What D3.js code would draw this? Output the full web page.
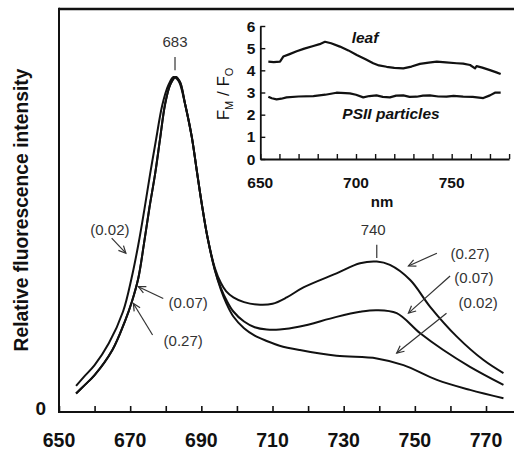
<!DOCTYPE html>
<html>
<head>
<meta charset="utf-8">
<script src="https://cdn.jsdelivr.net/npm/d3@7"></script>
<style>
  html, body { margin: 0; padding: 0; background: #fff; }
  svg { display: block; font-family: "Liberation Sans", Arial, sans-serif; }
</style>
</head>
<body>
<svg id="chart" width="514" height="451"></svg>
<script>
// ---- Fluorescence emission spectra (relative intensity, peak = 100) ----
// Spectrum measured at 0.02: blue-shifted red flank, lowest far-red band
const nm002 = [654.8, 657, 660, 664, 668, 670.4, 672.3, 674, 675.6, 677.3, 679, 680.7, 682.2, 683.6,
               685.4, 687.3, 688.7, 690.1, 691.7, 693.8, 695.5, 697, 699, 702, 705, 708.4, 712, 717.7,
               728, 739.3, 746.8, 756.2, 765.5, 774.9];
const fl002 = [7.8, 10.5, 14, 20.5, 30, 40, 50, 60.5, 71, 81.5, 91.5, 97.5, 100, 98.8,
               92.1, 82.2, 72.2, 62.3, 52.3, 42.4, 36.5, 32.5, 28.5, 25, 22.8, 21.2, 19.8, 18.5,
               16.8, 16.0, 14.0, 9.6, 6.6, 4.1];

// Spectrum measured at 0.07
const nm007 = [654.8, 657, 660, 665, 668.5, 670.5, 672.3, 673.9, 675.4, 677, 678.4, 679.8, 681.3, 682.8, 684,
               685.4, 687.3, 688.7, 690.1, 691.7, 693.8, 695.5, 697, 699, 702, 705, 708.4, 712, 717.7, 728,
               734.6, 739.3, 744.9, 751.5, 758, 765.5, 774.9];
const fl007 = [5.5, 7.8, 11, 18.5, 27, 33, 40, 50.4, 60.9, 71, 81.5, 91.8, 97.8, 100, 98.5,
               92.1, 82.2, 72.2, 62.3, 52.3, 42.4, 37, 33.5, 30, 27, 25.3, 24.6, 24.6, 25.5, 28.4,
               29.9, 30.4, 29.5, 23.5, 18.5, 13.5, 8.1];

// Spectrum measured at 0.27
const nm027 = [654.8, 657, 660, 665, 668.5, 670.5, 672.3, 673.9, 675.4, 677, 678.4, 679.8, 681.3, 682.8, 684,
               685.4, 687.3, 688.7, 690.1, 691.7, 693.8, 695.5, 697, 699, 702, 706.5, 710, 714, 718.7, 728,
               734.6, 739.3, 743, 748.7, 754.3, 761.8, 769.3, 774.9];
const fl027 = [5.5, 7.8, 11, 18.5, 27, 33, 40, 50.4, 60.9, 71, 81.5, 91.8, 97.8, 100, 98.5,
               92.1, 82.2, 72.2, 62.3, 52.3, 43, 38.5, 36, 34.2, 32.8, 32, 32.3, 34.2, 37.2, 41.4,
               44.4, 44.9, 43.9, 39.4, 31.4, 22.5, 15.5, 11.6];

// ---- Inset: FM / FO ratio across the spectrum ----
const leafNm  = [654.2, 657, 660.3, 662, 665, 669, 673, 677.7, 681, 683.8, 687, 691.6, 696, 700.4, 705,
                 709, 712, 716, 720, 724.7, 729, 733.4, 738, 742.2, 747, 752.6, 756, 759.6, 762.2, 763,
                 766, 770, 773, 775.6];
const leafVal = [4.39, 4.37, 4.39, 4.62, 4.72, 4.86, 4.98, 5.1, 5.18, 5.29, 5.22, 5.07, 4.9, 4.69, 4.5,
                 4.32, 4.22, 4.16, 4.11, 4.09, 4.17, 4.29, 4.35, 4.39, 4.36, 4.32, 4.3, 4.24, 4.09, 4.19,
                 4.12, 4.01, 3.92, 3.83];
const psiiNm  = [654.2, 656, 658.5, 661, 663.7, 670, 677.7, 684, 689.8, 696.8, 700, 703.8, 707, 710.7,
                 714, 717.7, 721, 724.7, 728, 731.7, 735, 738.6, 743, 747.3, 751, 756, 761, 766.5, 770,
                 772.6, 775.6];
const psiiVal = [2.81, 2.74, 2.69, 2.72, 2.78, 2.82, 2.84, 2.9, 2.99, 2.96, 2.9, 2.78, 2.84, 2.87,
                 2.8, 2.78, 2.86, 2.87, 2.8, 2.81, 2.86, 2.87, 2.82, 2.81, 2.85, 2.81, 2.8, 2.75, 2.87,
                 2.99, 2.99];

// Axis ticks and labels
const mainTickNm   = d3.range(650, 781, 10);
const mainLabelNm  = [650, 670, 690, 710, 730, 750, 770];
const insetTickNm  = d3.range(650, 781, 10);
const insetLabelNm = [650, 700, 750];
const insetTickY   = [0, 1, 2, 3, 4, 5, 6];

const svg = d3.select("#chart");
const W = 514, H = 451;

// ---------- main panel ----------
const x = d3.scaleLinear().domain([650, 780]).range([59, 521.6]);
const y = d3.scaleLinear().domain([0, 100]).range([412, 77]);
const frameTop = 9;

const line = d3.line().x(d => x(d[0])).y(d => y(d[1])).curve(d3.curveCatmullRom.alpha(0.5));
const zip = (a, b) => a.map((v, i) => [v, b[i]]);

// frame: top rule and left axis
svg.append("line").attr("x1", x(650)).attr("x2", W).attr("y1", frameTop).attr("y2", frameTop)
  .attr("stroke", "#111").attr("stroke-width", 2.5);
svg.append("line").attr("x1", x(650)).attr("x2", x(650)).attr("y1", frameTop - 1.2).attr("y2", y(0) + 1)
  .attr("stroke", "#111").attr("stroke-width", 2);

// bottom axis with inward ticks
const xAxis = d3.axisBottom(x).tickValues(mainTickNm).tickSize(-6).tickFormat("");
const gx = svg.append("g").attr("transform", `translate(0,${y(0)})`).call(xAxis);
gx.select(".domain").attr("stroke", "#111").attr("stroke-width", 2).attr("d", `M${x(650)},0H${W}`);
gx.selectAll(".tick line").attr("stroke", "#111").attr("stroke-width", 1.6);

svg.append("g").selectAll("text").data(mainLabelNm).join("text")
  .attr("x", d => x(d)).attr("y", 447)
  .attr("text-anchor", "middle").attr("font-size", 19.5).attr("font-weight", "bold").attr("fill", "#111")
  .text(d => d);

svg.append("text").attr("x", 46).attr("y", 415).attr("text-anchor", "end")
  .attr("font-size", 19).attr("font-weight", "bold").attr("fill", "#111").text("0");

svg.append("text")
  .attr("transform", `translate(28,210) rotate(-90)`)
  .attr("text-anchor", "middle").attr("font-size", 19.3).attr("font-weight", "bold").attr("fill", "#111")
  .text("Relative fluorescence intensity");

// spectra
[[nm002, fl002], [nm007, fl007], [nm027, fl027]].forEach(([n, f]) => {
  svg.append("path").datum(zip(n, f)).attr("d", line)
    .attr("fill", "none").attr("stroke", "#111").attr("stroke-width", 2).attr("stroke-linejoin", "round");
});

// peak markers
const ann = svg.append("g").attr("font-size", 15).attr("fill", "#333").attr("text-anchor", "middle");
ann.append("text").attr("x", x(682.6)).attr("y", y(109)).text("683");
ann.append("line").attr("x1", x(682.6)).attr("x2", x(682.6)).attr("y1", y(106)).attr("y2", y(102))
  .attr("stroke", "#333").attr("stroke-width", 1.2);
ann.append("text").attr("x", x(738.3)).attr("y", y(52.8)).text("740");
ann.append("line").attr("x1", x(739.3)).attr("x2", x(739.3)).attr("y1", y(49.9)).attr("y2", y(46))
  .attr("stroke", "#333").attr("stroke-width", 1.2);

// series labels with arrows (label position, arrow tail, arrow head) in data units
const labels = [
  { t: "(0.02)", at: [664.3, 52.8], from: [664.8, 51.9], to: [668.8, 47.4] },
  { t: "(0.07)", at: [686.3, 31.0], from: [679.3, 33.9], to: [672.3, 37.4] },
  { t: "(0.27)", at: [684.9, 19.7], from: [676.3, 23.0], to: [670.9, 32.4] },
  { t: "(0.27)", at: [765.5, 45.7], from: [756.2, 47.4], to: [748.2, 43.6] },
  { t: "(0.07)", at: [766.6, 38.5], from: [759.9, 40.6], to: [748.2, 29.5] },
  { t: "(0.02)", at: [767.8, 31.0], from: [758.9, 29.5], to: [744.9, 17.6] }
];
labels.forEach(l => {
  ann.append("text").attr("x", x(l.at[0])).attr("y", y(l.at[1])).text(l.t);
  const x1 = x(l.from[0]), y1 = y(l.from[1]), x2 = x(l.to[0]), y2 = y(l.to[1]);
  ann.append("line").attr("x1", x1).attr("y1", y1).attr("x2", x2).attr("y2", y2)
    .attr("stroke", "#333").attr("stroke-width", 1.2);
  const a = Math.atan2(y2 - y1, x2 - x1), L = 8, s = 0.45;
  ann.append("path")
    .attr("d", `M${x2 - L * Math.cos(a - s)},${y2 - L * Math.sin(a - s)}L${x2},${y2}L${x2 - L * Math.cos(a + s)},${y2 - L * Math.sin(a + s)}`)
    .attr("fill", "none").attr("stroke", "#333").attr("stroke-width", 1.2);
});

// ---------- inset ----------
const ix = d3.scaleLinear().domain([650, 780]).range([260.3, 509.1]);
const iy = d3.scaleLinear().domain([0, 6]).range([159, 26]);
const ins = svg.append("g");

const iyAxis = d3.axisLeft(iy).tickValues(insetTickY).tickSize(-5).tickFormat("").tickSizeOuter(0);
const gy = ins.append("g").attr("transform", `translate(${ix(650)},0)`).call(iyAxis);
gy.select(".domain").attr("stroke", "#111").attr("stroke-width", 1.8);
gy.selectAll(".tick line").attr("stroke", "#111").attr("stroke-width", 1.4);

const ixAxis = d3.axisBottom(ix).tickValues(insetTickNm).tickSize(-5).tickFormat("").tickSizeOuter(0);
const gix = ins.append("g").attr("transform", `translate(0,${iy(0)})`).call(ixAxis);
gix.select(".domain").attr("stroke", "#111").attr("stroke-width", 1.8);
gix.selectAll(".tick line").attr("stroke", "#111").attr("stroke-width", 1.4);

ins.append("g").selectAll("text").data(insetTickY).join("text")
  .attr("x", ix(650) - 5).attr("y", d => iy(d) + 5.5).attr("text-anchor", "end")
  .attr("font-size", 15.5).attr("font-weight", "bold").attr("fill", "#111").text(d => d);
ins.append("g").selectAll("text").data(insetLabelNm).join("text")
  .attr("x", d => ix(d)).attr("y", 188).attr("text-anchor", "middle")
  .attr("font-size", 15.5).attr("font-weight", "bold").attr("fill", "#111").text(d => d);
ins.append("text").attr("x", 382).attr("y", 207).attr("text-anchor", "middle")
  .attr("font-size", 15).attr("font-weight", "bold").attr("fill", "#111").text("nm");

const yl = ins.append("text").attr("transform", `translate(229,94) rotate(-90)`)
  .attr("text-anchor", "middle").attr("font-size", 17).attr("fill", "#111");
yl.append("tspan").text("F");
yl.append("tspan").attr("font-size", 11).attr("dy", 4).text("M");
yl.append("tspan").attr("dy", -4).text(" / F");
yl.append("tspan").attr("font-size", 11).attr("dy", 4).text("O");

const iline = d3.line().x(d => ix(d[0])).y(d => iy(d[1])).curve(d3.curveLinear);
[[leafNm, leafVal], [psiiNm, psiiVal]].forEach(([n, v]) => {
  ins.append("path").datum(zip(n, v)).attr("d", iline)
    .attr("fill", "none").attr("stroke", "#111").attr("stroke-width", 2.2).attr("stroke-linejoin", "round");
});

ins.append("text").attr("x", 365).attr("y", 43).attr("text-anchor", "middle")
  .attr("font-size", 15.5).attr("font-weight", "bold").attr("font-style", "italic").attr("fill", "#111").text("leaf");
ins.append("text").attr("x", 391).attr("y", 119).attr("text-anchor", "middle")
  .attr("font-size", 15.5).attr("font-weight", "bold").attr("font-style", "italic").attr("fill", "#111").text("PSII particles");
</script>
</body>
</html>
